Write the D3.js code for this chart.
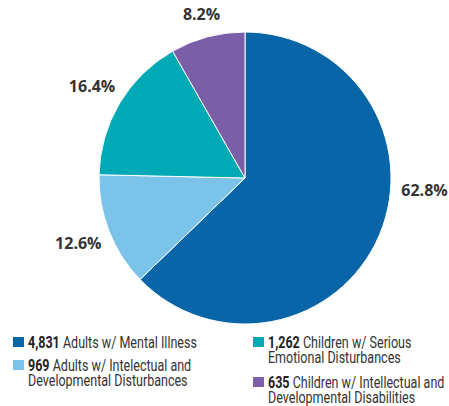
<html>
<style>
body { margin: 0; background: #fff; }
.pct { font-family: "Open Sans", "DejaVu Sans", sans-serif; font-weight: 700; font-size: 16px; fill: #333; }
.leg { font-family: Roboto, "Liberation Sans", sans-serif; font-size: 16px; fill: #333; }
.leg .num { font-weight: 700; fill: #222; }
</style>
<svg width="449" height="406"></svg>
<script src="https://d3js.org/d3.v7.min.js"></script>
<script>

var counts = [4831, 969, 1262, 635],
    pctLabels = ["62.8%", "12.6%", "16.4%", "8.2%"],
    colors = ["#0866a8", "#7cc3e9", "#00a9b6", "#7a5ea8"];

var legendLines = [
  ["Adults w/ Mental Illness"],
  ["Adults w/ Intelectual and", "Developmental Disturbances"],
  ["Children w/ Serious", "Emotional Disturbances"],
  ["Children w/ Intellectual and", "Developmental Disabilities"]
];

var svg = d3.select("svg"),
    cx = 245, cy = 178, radius = 146;

var pie = d3.pie().sort(null).value(function(d) { return d; });
var arcs = pie(counts);

var arc = d3.arc().innerRadius(0).outerRadius(radius);

var g = svg.append("g").attr("transform", "translate(" + cx + "," + cy + ")");

g.selectAll("path")
  .data(arcs)
  .enter().append("path")
    .attr("d", arc)
    .attr("fill", function(d, i) { return colors[i]; })
    .attr("stroke", "#fff")
    .attr("stroke-width", 1);

// labels sit outside the pie; the big slice label is pulled up near horizontal
function labelAngle(d) {
  var a = (d.startAngle + d.endAngle) / 2;
  if (d.endAngle - d.startAngle > Math.PI) a = Math.PI / 2 + 0.07;
  return a;
}
function labelRadius(d) {
  var a = labelAngle(d);
  return radius + 20 + 14 * Math.abs(Math.sin(a));
}

g.selectAll("text.pct")
  .data(arcs)
  .enter().append("text")
    .attr("class", "pct")
    .attr("text-anchor", "middle")
    .attr("dy", "0.35em")
    .attr("x", function(d) { return labelRadius(d) * Math.sin(labelAngle(d)); })
    .attr("y", function(d) { return -labelRadius(d) * Math.cos(labelAngle(d)); })
    .text(function(d, i) { return pctLabels[i]; });

// legend: two columns, condensed text
var legPos = [[13, 348], [13, 371], [253, 348], [253, 388]];
var lineH = 15.5;

var leg = svg.append("g").attr("class", "leg")
  .selectAll("g")
  .data(counts)
  .enter().append("g")
    .attr("transform", function(d, i) { return "translate(" + legPos[i][0] + "," + legPos[i][1] + ")"; });

leg.append("rect")
  .attr("x", 0).attr("y", -11)
  .attr("width", 11).attr("height", 10)
  .attr("fill", function(d, i) { return colors[i]; });

var txt = leg.append("g").attr("transform", "translate(15,0)");

txt.each(function(d, i) {
  var t = d3.select(this).append("text").attr("x", 0).attr("y", 0);
  t.append("tspan").attr("class", "num").text(d3.format(",")(d));
  t.append("tspan").text(" " + legendLines[i][0]);
  for (var k = 1; k < legendLines[i].length; k++) {
    d3.select(this).append("text")
      .attr("x", 0).attr("y", k * lineH)
      .text(legendLines[i][k]);
  }
});

// squeeze text so the first entry is as wide as in the original
var w0 = txt.filter(function(d, i) { return i === 0; }).select("text").node().getComputedTextLength();
var sx = 169 / w0;
txt.attr("transform", "translate(15,0) scale(" + sx + ",1)");

</script>
</html>
